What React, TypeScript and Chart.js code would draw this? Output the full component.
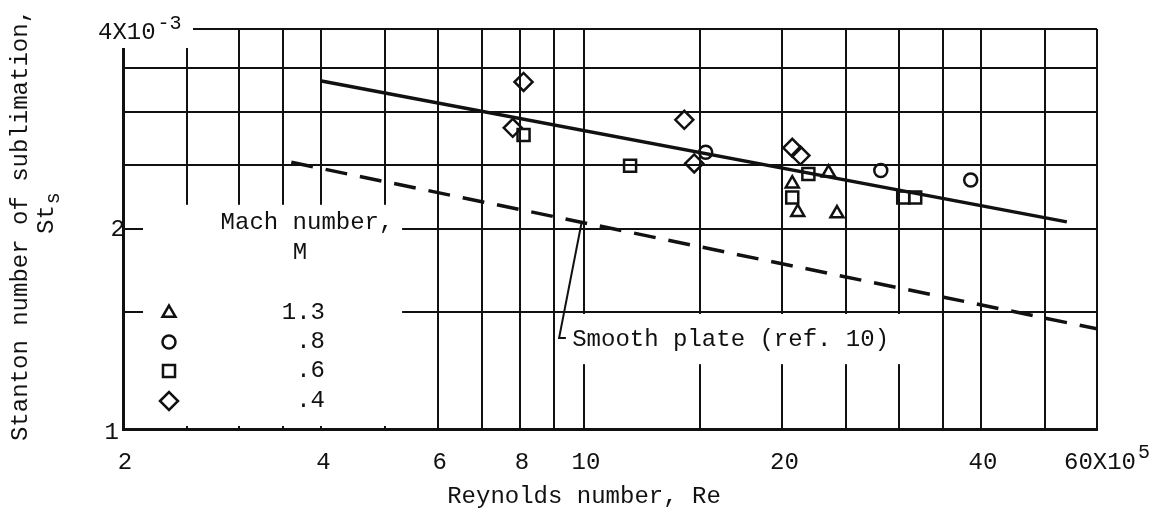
import React, { useEffect, useRef } from 'react';
import { Chart, registerables } from 'chart.js';

Chart.register(...registerables);

// Grid values (log scales)
const xGrid = [2, 2.5, 3, 3.5, 4, 5, 6, 7, 8, 9, 10, 15, 20, 25, 30, 35, 40, 50, 60];
const yGrid = [1, 1.5, 2, 2.5, 3, 3.5, 4];
const xTickValues = [2, 4, 6, 8, 10, 20, 40];
const xTickLabels = ['2', '4', '6', '8', '10', '20', '40'];

// Data: Reynolds number (x10^5) and Stanton number (x10^-3)
const triRe = [23.5, 20.7, 21.1, 24.2];
const triSt = [2.43, 2.34, 2.12, 2.11];
const cirRe = [15.3, 28.2, 38.6];
const cirSt = [2.61, 2.45, 2.37];
const sqRe = [8.1, 11.75, 21.9, 20.7, 30.5, 31.8];
const sqSt = [2.77, 2.49, 2.42, 2.23, 2.23, 2.23];
const diaRe = [8.1, 7.8, 14.2, 14.7, 20.7, 21.3];
const diaSt = [3.33, 2.84, 2.92, 2.51, 2.65, 2.58];

// Faired line through data and smooth-plate reference line
const fitRe = [4, 54];
const fitSt = [3.34, 2.05];
const smoothRe = [3.6, 60];
const smoothSt = [2.52, 1.415];
const leaderRe = [9.93, 9.17, 9.39];
const leaderSt = [2.056, 1.371, 1.371];

const machLabels = ['1.3', '.8', '.6', '.4'];
const machStyles = ['triangle', 'circle', 'rect', 'rectRot'];

const FONT = '"Liberation Mono", "DejaVu Sans Mono", monospace';
const INK = '#111';

const zip = (xs: number[], ys: number[]) => xs.map((x, i) => ({ x, y: ys[i] }));

const markerRadius: Record<string, number> = { triangle: 7.5, circle: 6.5, rect: 8.5, rectRot: 9 };

function drawMarker(ctx: CanvasRenderingContext2D, style: string, x: number, y: number) {
  const r = markerRadius[style];
  ctx.beginPath();
  if (style === 'triangle') {
    ctx.moveTo(x, y - r);
    ctx.lineTo(x + 0.866 * r, y + 0.5 * r);
    ctx.lineTo(x - 0.866 * r, y + 0.5 * r);
    ctx.closePath();
  } else if (style === 'circle') {
    ctx.arc(x, y, r, 0, Math.PI * 2);
  } else if (style === 'rect') {
    const s = r * Math.SQRT1_2;
    ctx.rect(x - s, y - s, 2 * s, 2 * s);
  } else {
    ctx.moveTo(x - r, y);
    ctx.lineTo(x, y - r);
    ctx.lineTo(x + r, y);
    ctx.lineTo(x, y + r);
    ctx.closePath();
  }
  ctx.stroke();
}

const overlayPlugin = {
  id: 'overlay',
  beforeDatasetsDraw(chart: any) {
    const { ctx } = chart;
    const xs = chart.scales.x;
    const ys = chart.scales.y;
    const px = (v: number) => xs.getPixelForValue(v);
    const py = (v: number) => ys.getPixelForValue(v);
    ctx.save();
    ctx.fillStyle = '#fff';
    // box behind top-left tick label
    ctx.fillRect(px(2) - 40, 0, 110, py(4) + 19);
    // legend box
    const lx0 = px(2) + 20;
    const lx1 = px(5.3);
    const ly0 = py(2.175);
    const ly1 = py(1) - 3;
    ctx.fillRect(lx0, ly0, lx1 - lx0, ly1 - ly0);
    // label box for smooth plate
    const bx0 = px(9.44);
    const bx1 = px(31.2);
    const by0 = py(1.49);
    const by1 = py(1.252);
    ctx.fillRect(bx0, by0, bx1 - bx0, by1 - by0);
    ctx.restore();
  },
  afterDraw(chart: any) {
    const { ctx, chartArea } = chart;
    const xs = chart.scales.x;
    const ys = chart.scales.y;
    const px = (v: number) => xs.getPixelForValue(v);
    const py = (v: number) => ys.getPixelForValue(v);
    ctx.save();
    ctx.fillStyle = INK;
    ctx.strokeStyle = INK;
    const big = `24px ${FONT}`;
    const small = `20px ${FONT}`;

    // x tick labels
    ctx.font = big;
    ctx.textAlign = 'center';
    ctx.textBaseline = 'middle';
    const xLabY = py(1) + 34;
    xTickValues.forEach((v, i) => {
      ctx.fillText(xTickLabels[i], px(v) + 2, xLabY);
    });
    ctx.textAlign = 'left';
    const x60 = px(60) - 33;
    ctx.fillText('60X10', x60, xLabY);
    const w60 = ctx.measureText('60X10').width;
    ctx.font = small;
    ctx.fillText('5', x60 + w60 + 2, xLabY - 10);

    // y tick labels
    ctx.font = big;
    ctx.textAlign = 'right';
    ctx.fillText('2', px(2) + 2, py(2) + 1);
    ctx.fillText('1', px(2) - 4, py(1) + 4);
    ctx.textAlign = 'left';
    const x4 = px(2) - 25;
    ctx.fillText('4X10', x4, py(4) + 4);
    const w4 = ctx.measureText('4X10').width;
    ctx.font = small;
    ctx.fillText('-3', x4 + w4 + 2, py(4) - 5);

    // axis titles
    ctx.font = big;
    ctx.textAlign = 'center';
    ctx.fillText('Reynolds number, Re', (chartArea.left + chartArea.right) / 2 - 26, py(1) + 68);

    ctx.save();
    ctx.translate(21, (chartArea.top + chartArea.bottom) / 2 - 4);
    ctx.rotate(-Math.PI / 2);
    ctx.textAlign = 'center';
    ctx.fillText('Stanton number of sublimation,', 0, 0);
    ctx.restore();

    ctx.save();
    ctx.translate(47, py(2) + 5);
    ctx.rotate(-Math.PI / 2);
    ctx.textAlign = 'left';
    ctx.font = big;
    ctx.fillText('St', 0, 0);
    const wSt = ctx.measureText('St').width;
    ctx.font = small;
    ctx.fillText('s', wSt + 1, 7);
    ctx.restore();

    // legend
    const L = chartArea.left;
    const T = chartArea.top;
    ctx.font = big;
    ctx.textAlign = 'center';
    ctx.fillText('Mach number,', L + 184, T + 194);
    ctx.fillText('M', L + 177, T + 224);
    ctx.lineWidth = 2.5;
    const rowY = [T + 284, T + 313, T + 342, T + 372];
    machStyles.forEach((s, i) => {
      drawMarker(ctx, s, L + 46, rowY[i]);
    });
    ctx.textAlign = 'right';
    machLabels.forEach((t, i) => {
      ctx.fillText(t, L + 202, rowY[i]);
    });

    // smooth plate label
    ctx.textAlign = 'left';
    ctx.fillText('Smooth plate (ref. 10)', px(9.6), py(1.371) + 2);

    ctx.restore();
  },
};

const pointDs = (label: string, style: string, xs: number[], ys: number[]) => ({
  label,
  data: zip(xs, ys),
  showLine: false,
  pointStyle: style,
  pointRadius: markerRadius[style],
  pointBorderWidth: 2.5,
  borderColor: INK,
  backgroundColor: 'rgba(0,0,0,0)',
  pointBackgroundColor: 'rgba(0,0,0,0)',
});

export default function App() {
  const ref = useRef<HTMLCanvasElement | null>(null);
  useEffect(() => {
    if (!ref.current) return;
    const chart = new Chart(ref.current, {
      type: 'scatter',
      data: {
        datasets: [
          {
            label: 'fit',
            data: zip(fitRe, fitSt),
            showLine: true,
            pointRadius: 0,
            borderColor: INK,
            borderWidth: 3.5,
          },
          {
            label: 'Smooth plate (ref. 10)',
            data: zip(smoothRe, smoothSt),
            showLine: true,
            pointRadius: 0,
            borderColor: INK,
            borderWidth: 3.5,
            borderDash: [22, 13],
          },
          {
            label: 'leader',
            data: zip(leaderRe, leaderSt),
            showLine: true,
            pointRadius: 0,
            borderColor: INK,
            borderWidth: 2,
          },
          pointDs('1.3', 'triangle', triRe, triSt),
          pointDs('.8', 'circle', cirRe, cirSt),
          pointDs('.6', 'rect', sqRe, sqSt),
          pointDs('.4', 'rectRot', diaRe, diaSt),
        ] as any,
      },
      options: {
        animation: false,
        responsive: false,
        layout: { padding: { left: 123, right: 69, top: 29, bottom: 87 } },
        plugins: { legend: { display: false }, tooltip: { enabled: false }, title: { display: false } },
        scales: {
          x: {
            type: 'logarithmic',
            min: 2,
            max: 60,
            afterBuildTicks: (s: any) => {
              s.ticks = xGrid.map((v) => ({ value: v }));
            },
            ticks: { display: false },
            grid: { color: INK, lineWidth: 2, drawTicks: false },
            border: { display: true, color: INK, width: 3 },
          },
          y: {
            type: 'logarithmic',
            min: 1,
            max: 4,
            afterBuildTicks: (s: any) => {
              s.ticks = yGrid.map((v) => ({ value: v }));
            },
            ticks: { display: false },
            grid: { color: INK, lineWidth: 2, drawTicks: false },
            border: { display: true, color: INK, width: 3 },
          },
        },
      } as any,
      plugins: [overlayPlugin],
    });
    return () => chart.destroy();
  }, []);
  return (
    <div style={{ position: 'absolute', left: 0, top: 0, width: 1166, height: 516, background: '#fff' }}>
      <canvas ref={ref} width={1166} height={516} style={{ display: 'block' }} />
    </div>
  );
}
